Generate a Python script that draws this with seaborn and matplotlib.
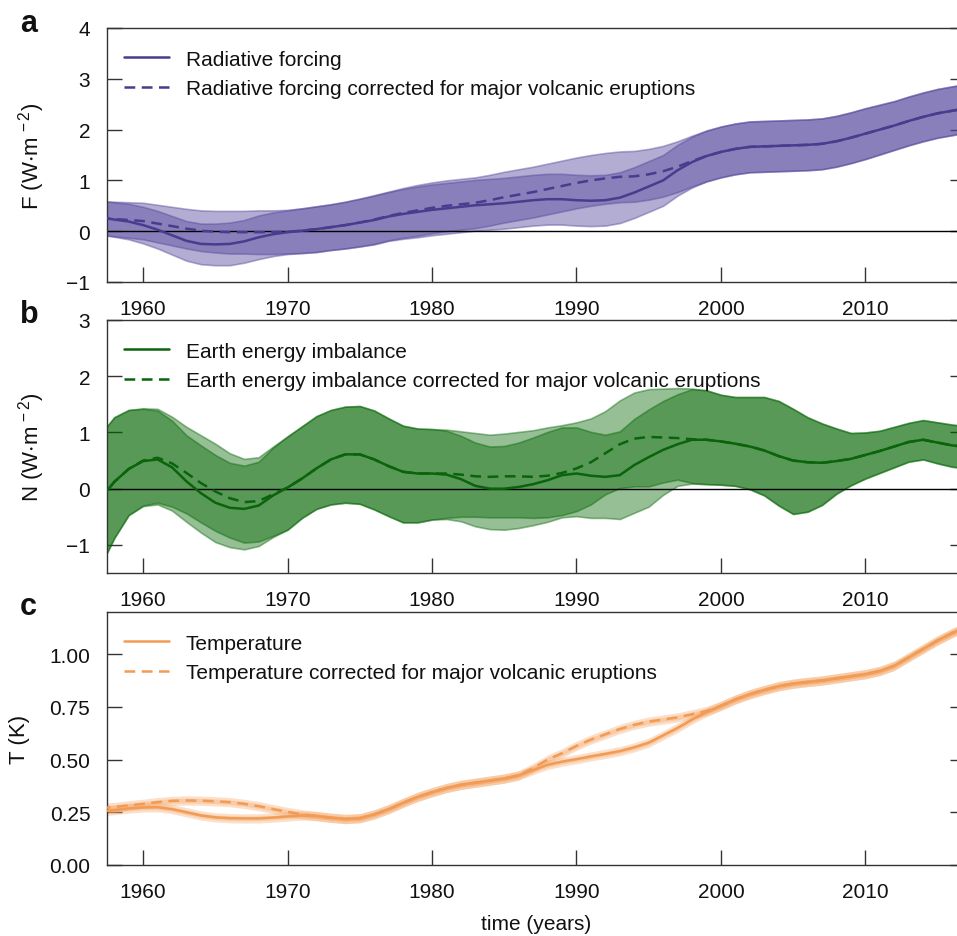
import numpy as np
import pandas as pd
import matplotlib
matplotlib.use("Agg")
import matplotlib.pyplot as plt
import seaborn as sns

# ---------------- data ----------------
years = list(range(1957, 2018))

F_solid = [0.27, 0.23, 0.19, 0.12, 0.03, -0.08, -0.19, -0.25, -0.26, -0.25,
           -0.20, -0.12, -0.06, -0.02, 0.01, 0.04, 0.08, 0.12, 0.17, 0.22,
           0.29, 0.34, 0.38, 0.42, 0.45, 0.48, 0.51, 0.53, 0.55, 0.58,
           0.61, 0.63, 0.63, 0.61, 0.60, 0.61, 0.66, 0.76, 0.88, 1.00,
           1.20, 1.36, 1.48, 1.56, 1.62, 1.66, 1.67, 1.68, 1.69, 1.70,
           1.72, 1.77, 1.84, 1.92, 2.00, 2.08, 2.17, 2.25, 2.32, 2.37, 2.42]
F_corr = [0.26, 0.24, 0.22, 0.20, 0.15, 0.10, 0.05, 0.01, -0.01, -0.02,
          -0.02, -0.02, -0.02, -0.01, 0.01, 0.04, 0.08, 0.12, 0.17, 0.23,
          0.30, 0.36, 0.41, 0.46, 0.50, 0.53, 0.56, 0.61, 0.67, 0.72,
          0.77, 0.83, 0.89, 0.95, 1.00, 1.04, 1.07, 1.08, 1.12, 1.18,
          1.27, 1.38, 1.48, 1.56, 1.62, 1.66, 1.67, 1.68, 1.69, 1.70,
          1.72, 1.77, 1.84, 1.92, 2.00, 2.08, 2.17, 2.25, 2.32, 2.37, 2.42]
F_spread = [0.33, 0.34, 0.35, 0.36, 0.37, 0.38, 0.39, 0.40, 0.41, 0.42,
            0.42, 0.43, 0.43, 0.43, 0.44, 0.45, 0.45, 0.46, 0.47, 0.48,
            0.48, 0.49, 0.50, 0.50, 0.50, 0.50, 0.50, 0.50, 0.50, 0.50,
            0.50, 0.50, 0.50, 0.50, 0.50, 0.50, 0.50, 0.50, 0.50, 0.50,
            0.50, 0.50, 0.50, 0.50, 0.50, 0.50, 0.50, 0.50, 0.50, 0.50,
            0.50, 0.50, 0.50, 0.50, 0.49, 0.48, 0.48, 0.48, 0.48, 0.48, 0.48]

N_solid = [-0.20, 0.12, 0.35, 0.49, 0.52, 0.38, 0.13, -0.08, -0.25, -0.34,
           -0.36, -0.30, -0.12, 0.02, 0.18, 0.36, 0.52, 0.61, 0.61, 0.52,
           0.40, 0.30, 0.27, 0.27, 0.25, 0.17, 0.05, 0.00, 0.00, 0.03,
           0.08, 0.15, 0.24, 0.27, 0.23, 0.21, 0.24, 0.42, 0.56, 0.69,
           0.79, 0.87, 0.87, 0.84, 0.80, 0.75, 0.68, 0.58, 0.50, 0.47,
           0.46, 0.49, 0.53, 0.60, 0.67, 0.75, 0.83, 0.87, 0.82, 0.77, 0.74]
N_corr = [-0.20, 0.12, 0.35, 0.50, 0.55, 0.45, 0.28, 0.10, -0.05, -0.17,
          -0.24, -0.22, -0.10, 0.02, 0.18, 0.36, 0.52, 0.61, 0.61, 0.52,
          0.40, 0.30, 0.27, 0.27, 0.27, 0.25, 0.22, 0.21, 0.22, 0.22,
          0.21, 0.23, 0.28, 0.36, 0.47, 0.63, 0.79, 0.89, 0.92, 0.91,
          0.90, 0.88, 0.87, 0.84, 0.80, 0.75, 0.68, 0.58, 0.50, 0.47,
          0.46, 0.49, 0.53, 0.60, 0.67, 0.75, 0.83, 0.87, 0.82, 0.77, 0.74]
N_up = [1.15, 1.15, 1.05, 0.93, 0.87, 0.83, 0.82, 0.85, 0.85, 0.80,
        0.77, 0.78, 0.85, 0.91, 0.93, 0.93, 0.88, 0.85, 0.86, 0.87,
        0.85, 0.82, 0.80, 0.79, 0.78, 0.77, 0.77, 0.75, 0.76, 0.79,
        0.83, 0.86, 0.85, 0.82, 0.78, 0.75, 0.78, 0.82, 0.85, 0.87,
        0.89, 0.90, 0.88, 0.83, 0.83, 0.88, 0.95, 0.98, 0.92, 0.80,
        0.70, 0.58, 0.46, 0.40, 0.36, 0.35, 0.34, 0.35, 0.36, 0.37, 0.37]
N_low = [1.20, 1.00, 0.82, 0.80, 0.80, 0.77, 0.72, 0.70, 0.70, 0.70,
         0.72, 0.72, 0.74, 0.75, 0.70, 0.72, 0.80, 0.86, 0.88, 0.89,
         0.89, 0.90, 0.87, 0.82, 0.79, 0.75, 0.72, 0.72, 0.73, 0.73,
         0.73, 0.74, 0.75, 0.76, 0.75, 0.73, 0.78, 0.85, 0.88, 0.80,
         0.74, 0.78, 0.79, 0.77, 0.75, 0.76, 0.80, 0.88, 0.95, 0.88,
         0.75, 0.58, 0.47, 0.42, 0.39, 0.37, 0.35, 0.35, 0.37, 0.38, 0.38]

T_solid = [0.255, 0.260, 0.268, 0.273, 0.274, 0.265, 0.250, 0.235, 0.226, 0.222,
           0.221, 0.221, 0.225, 0.230, 0.235, 0.232, 0.224, 0.218, 0.222, 0.240,
           0.265, 0.295, 0.323, 0.345, 0.365, 0.380, 0.390, 0.400, 0.410, 0.425,
           0.450, 0.475, 0.490, 0.502, 0.515, 0.527, 0.540, 0.558, 0.580, 0.615,
           0.650, 0.690, 0.725, 0.755, 0.785, 0.810, 0.830, 0.848, 0.860, 0.868,
           0.875, 0.885, 0.895, 0.905, 0.920, 0.945, 0.985, 1.025, 1.065, 1.100, 1.130]
T_corr = [0.270, 0.275, 0.283, 0.290, 0.298, 0.304, 0.306, 0.305, 0.302, 0.298,
          0.290, 0.279, 0.265, 0.252, 0.240, 0.232, 0.224, 0.218, 0.222, 0.240,
          0.265, 0.295, 0.323, 0.345, 0.365, 0.380, 0.390, 0.400, 0.410, 0.425,
          0.460, 0.500, 0.530, 0.565, 0.595, 0.620, 0.645, 0.665, 0.680, 0.690,
          0.700, 0.715, 0.730, 0.755, 0.785, 0.810, 0.830, 0.848, 0.860, 0.868,
          0.875, 0.885, 0.895, 0.905, 0.920, 0.945, 0.985, 1.025, 1.065, 1.100, 1.130]
T_spread = [0.022] * len(years)

x_ticks = [1960, 1970, 1980, 1990, 2000, 2010]
F_ticks = [-1, 0, 1, 2, 3, 4]
N_ticks = [-1, 0, 1, 2, 3]
T_ticks = [0.00, 0.25, 0.50, 0.75, 1.00]

labels_F = ["Radiative forcing", "Radiative forcing corrected for major volcanic eruptions"]
labels_N = ["Earth energy imbalance", "Earth energy imbalance corrected for major volcanic eruptions"]
labels_T = ["Temperature", "Temperature corrected for major volcanic eruptions"]

# ---------------- style ----------------
sns.set_style("ticks")
plt.rcParams['font.family'] = ['Liberation Sans', 'DejaVu Sans']
plt.rcParams['mathtext.fontset'] = 'custom'
plt.rcParams['mathtext.rm'] = 'Liberation Sans'
plt.rcParams['mathtext.it'] = 'Liberation Sans:italic'
plt.rcParams['mathtext.default'] = 'regular'
plt.rcParams['text.color'] = '#111111'
plt.rcParams['axes.labelcolor'] = '#111111'
plt.rcParams['xtick.color'] = '#333333'
plt.rcParams['ytick.color'] = '#333333'
plt.rcParams['xtick.labelcolor'] = '#111111'
plt.rcParams['ytick.labelcolor'] = '#111111'

fig = plt.figure(figsize=(9.57, 9.37), dpi=100)

left = 107 / 957
width = (965 - 107) / 957
positions = [(left, 1 - 283 / 937, width, 254 / 937),
             (left, 1 - 574 / 937, width, 253 / 937),
             (left, 1 - 866 / 937, width, 253 / 937)]

panels = [
    dict(letter='a', solid=F_solid, corr=F_corr, up=F_spread, low=F_spread,
         line='#4b3b8f', band='#54469b', alpha=0.44, ylim=(-1, 4), yticks=F_ticks,
         ylabel=r'F (W$\cdot$m$^{\,-2}$)', labels=labels_F, zero=True, fmt='{:g}'),
    dict(letter='b', solid=N_solid, corr=N_corr, up=N_up, low=N_low,
         line='#0b640b', band='#006400', alpha=0.41, ylim=(-1.5, 3), yticks=N_ticks,
         ylabel=r'N (W$\cdot$m$^{\,-2}$)', labels=labels_N, zero=True, fmt='{:g}'),
    dict(letter='c', solid=T_solid, corr=T_corr, up=T_spread, low=T_spread,
         line='#f29b55', band='#f4a464', alpha=0.35, ylim=(0, 1.2), yticks=T_ticks,
         ylabel='T (K)', labels=labels_T, zero=False, fmt='{:.2f}'),
]

letter_y = [32, 323, 615]
yrs = np.array(years, dtype=float)

for p, pos, ly in zip(panels, positions, letter_y):
    ax = fig.add_axes(pos)
    solid = np.array(p['solid'])
    corr = np.array(p['corr'])
    up = np.array(p['up'])
    low = np.array(p['low'])

    # uncertainty bands
    if p['letter'] != 'c':
        for centre in (solid, corr):
            ax.fill_between(yrs, centre - low, centre + up, color=p['band'],
                            alpha=p['alpha'], lw=1.2, zorder=1)
    else:
        for centre in (solid, corr):
            ax.fill_between(yrs, centre - low, centre + up, color=p['band'],
                            alpha=p['alpha'], lw=0, zorder=1)
            ax.fill_between(yrs, centre - low / 2, centre + up / 2, color=p['band'],
                            alpha=p['alpha'], lw=0, zorder=1)

    if p['zero']:
        ax.axhline(0, color='black', lw=1.0, zorder=2)

    sns.lineplot(x=years, y=p['solid'], ax=ax, color=p['line'], lw=1.8,
                 label=p['labels'][0], zorder=3)
    sns.lineplot(x=years, y=p['corr'], ax=ax, color=p['line'], lw=1.8,
                 linestyle=(0, (4.3, 2.6)), label=p['labels'][1], zorder=3)

    ax.set_xlim(1957.5, 2016.9)
    ax.set_ylim(*p['ylim'])
    ax.set_xticks(x_ticks)
    ax.set_xticklabels([str(t) for t in x_ticks])
    ax.set_yticks(p['yticks'])
    ax.set_yticklabels([p['fmt'].format(t).replace('-', '\u2212') for t in p['yticks']])
    ax.tick_params(axis='x', direction='in', length=11, width=1, pad=12,
                   labelsize=15, top=False, bottom=True)
    ax.tick_params(axis='y', direction='in', length=11, width=1, pad=12,
                   labelsize=15, left=True, right=True)
    for s in ax.spines.values():
        s.set_visible(True)
        s.set_color('#333333')
        s.set_linewidth(1.0)
    ax.set_xlabel('')
    ax.set_ylabel(p['ylabel'], fontsize=16, labelpad=14)

    ax.legend(loc='upper left', bbox_to_anchor=(0.02, 0.915), frameon=False,
              fontsize=15, handlelength=2.15, handletextpad=0.8,
              labelspacing=0.52, borderpad=0, borderaxespad=0)

    fig.text(20 / 957, 1 - ly / 937, p['letter'], fontsize=22, fontweight='bold',
             va='baseline', ha='left')

fig.text(536 / 957, 1 - 930 / 937, 'time (years)', fontsize=15, ha='center',
         va='baseline')

fig.savefig('out.png', dpi=100)
